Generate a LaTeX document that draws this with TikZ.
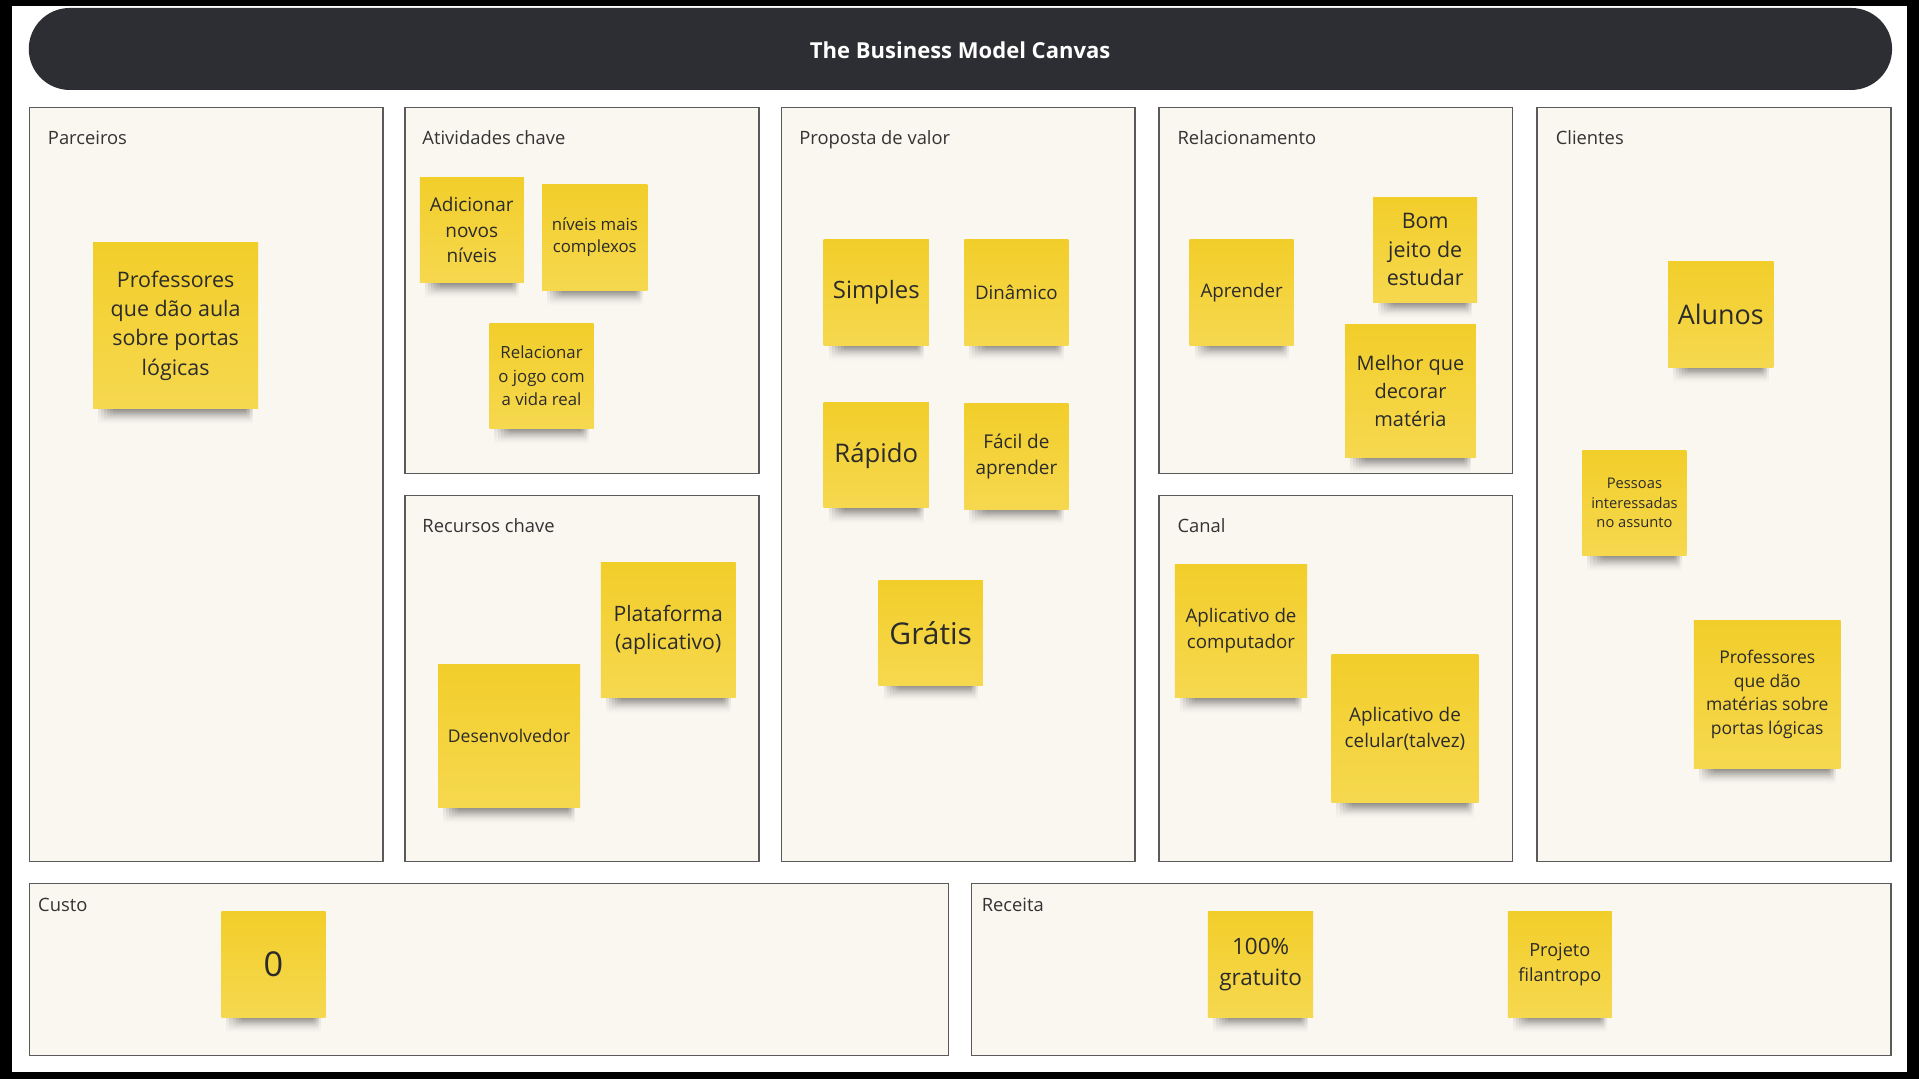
\documentclass[tikz,border=0pt]{standalone}
\usepackage{fontspec}
\setmainfont{Open Sans}
\usetikzlibrary{fadings}
\definecolor{frameblack}{HTML}{000000}
\definecolor{titlebar}{HTML}{2D2E33}
\definecolor{cream}{HTML}{FAF6F0}
\definecolor{boxline}{HTML}{5A5A5A}
\definecolor{stickA}{HTML}{F2CE2A}
\definecolor{stickB}{HTML}{F6D84F}
\definecolor{notetext}{HTML}{2B2B2B}
\definecolor{lbltext}{HTML}{333333}
\tikzset{
  cbox/.style={draw=boxline, fill=cream, line width=1.2pt},
  lbl/.style={anchor=base west, inner sep=0pt, text=lbltext, font=\fontsize{15}{18}\selectfont},
  sticky/.style={top color=stickA, bottom color=stickB, draw=none, text=notetext, align=center, inner sep=0pt, anchor=center},
  nshadow/.style={fill=black, opacity=0.1, path fading=south},
}
% name, cx, cy, w, h, fontsize, skip, text
\newcommand\stickynote[8]{%
  \foreach \k in {0,...,5}{%
    \fill[nshadow] (#2-#4/2+4+2.5*\k, #3+#5/2-2) rectangle (#2+#4/2-4-1.2*\k, #3+#5/2+13-1.6*\k);
  }%
  \node[sticky, minimum width=#4pt, minimum height=#5pt, font=\fontsize{#6}{#7}\selectfont] (#1) at (#2,#3) {#8};
}
\begin{document}
\begin{tikzpicture}[x=1pt,y=-1pt]
\useasboundingbox (0,0) rectangle (1568,881.6);
\fill[frameblack] (0,0) rectangle (1568,881.6);
\fill[white] (10,5) rectangle (1558.5,875.6);
% title bar
\fill[titlebar, rounded corners=33.5pt] (23.5,6.5) rectangle (1546,73.5);
\node[text=white, font=\bfseries\fontsize{18}{22}\selectfont] (title) at (784.5,41) {The Business Model Canvas};
% boxes
\path[cbox] (24.3,87.7) rectangle (313,704);
\path[cbox] (331,87.7) rectangle (620,387);
\path[cbox] (331,405) rectangle (620,704);
\path[cbox] (638.5,87.7) rectangle (927.5,704);
\path[cbox] (947,87.7) rectangle (1236,387);
\path[cbox] (947,405) rectangle (1236,704);
\path[cbox] (1256,87.7) rectangle (1545,704);
\path[cbox] (24.3,722) rectangle (775,862.5);
\path[cbox] (794,722) rectangle (1545,862.5);
% labels
\node[lbl] (lparc) at (39,118) {Parceiros};
\node[lbl] (lativ) at (345,118) {Atividades chave};
\node[lbl] (lrec) at (345,435) {Recursos chave};
\node[lbl] (lprop) at (653,118) {Proposta de valor};
\node[lbl] (lrel) at (962,118) {Relacionamento};
\node[lbl] (lcan) at (962,435) {Canal};
\node[lbl] (lcli) at (1271,118) {Clientes};
\node[lbl] (lcus) at (31,745) {Custo};
\node[lbl] (lrea) at (802,745) {Receita};
% notes
\stickynote{nprof}{143.5}{266}{135}{136}{17.5}{24}{Professores\\que dão aula\\sobre portas\\lógicas}
\stickynote{nadic}{385.5}{188}{85}{86}{15.5}{21}{Adicionar\\novos\\níveis}
\stickynote{nnive}{486}{194}{86}{86}{13.7}{18}{níveis mais\\complexos}
\stickynote{nrela}{442.5}{307}{85}{86}{13.7}{19}{Relacionar\\o jogo com\\a vida real}
\stickynote{nplat}{546}{515}{110}{110}{17.3}{23}{Plataforma\\(aplicativo)}
\stickynote{ndese}{416}{601.5}{116}{117}{14.3}{19}{Desenvolvedor}
\stickynote{nsimp}{716}{239}{86}{86}{19.5}{24}{Simples}
\stickynote{ndina}{830.5}{239}{85}{86}{15.3}{20}{Dinâmico}
\stickynote{nrapi}{716}{372}{86}{86}{21}{26}{Rápido}
\stickynote{nfaci}{830.5}{373}{85}{86}{15.5}{21.5}{Fácil de\\aprender}
\stickynote{ngrat}{760.5}{517}{85}{86}{24.5}{30}{Grátis}
\stickynote{napre}{1014.5}{239}{85}{86}{15.3}{20}{Aprender}
\stickynote{nbomj}{1164.5}{204}{85}{86}{17.5}{23.5}{Bom\\jeito de\\estudar}
\stickynote{nmelh}{1152.5}{319.5}{107}{109}{16.3}{22.5}{Melhor que\\decorar\\matéria}
\stickynote{napco}{1014}{515.5}{108}{109}{15.3}{21}{Aplicativo de\\computador}
\stickynote{napce}{1148}{595.5}{120}{121}{15.4}{20.5}{Aplicativo de\\celular(talvez)}
\stickynote{nalun}{1406}{257}{86}{86}{22}{27}{Alunos}
\stickynote{npess}{1335.5}{411}{85}{86}{12}{16}{Pessoas\\interessadas\\no assunto}
\stickynote{nprcl}{1444}{567.5}{120}{121}{14.3}{19.3}{Professores\\que dão\\matérias sobre\\portas lógicas}
\stickynote{nzero}{223.5}{788}{85}{86}{28}{32}{0}
\stickynote{ncem}{1030}{788}{86}{86}{18.4}{25.5}{100\%\\gratuito}
\stickynote{nproj}{1274.5}{788}{85}{86}{14.8}{20}{Projeto\\filantropo}
\end{tikzpicture}
\end{document}
